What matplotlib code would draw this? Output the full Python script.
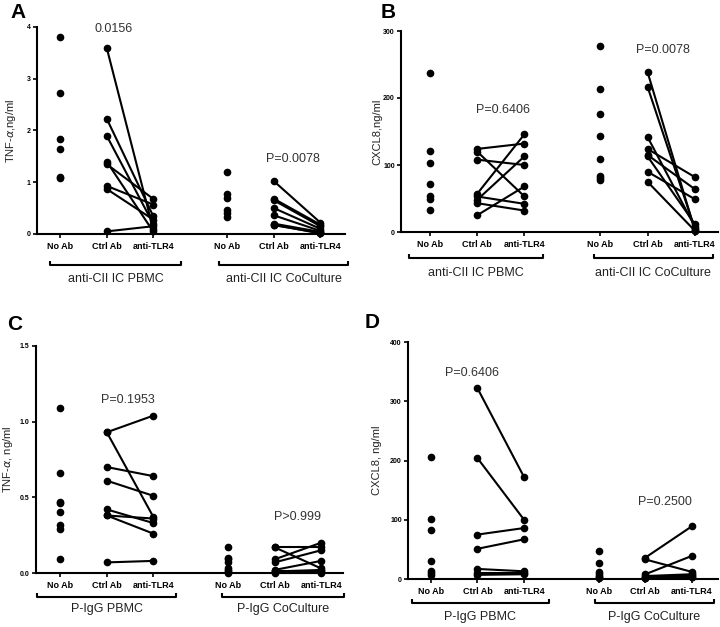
import matplotlib.pyplot as plt
from matplotlib import transforms

plt.rcParams['font.family'] = ['Liberation Sans', 'DejaVu Sans']

# --- data ---
categories = ['No Ab', 'Ctrl Ab', 'anti-TLR4', 'No Ab', 'Ctrl Ab', 'anti-TLR4']
positions = [0, 1, 2, 3.6, 4.6, 5.6]

# A: TNF-alpha, anti-CII IC
a_pbmc_noab = [3.8, 2.73, 1.83, 1.65, 1.1, 1.08]
a_pbmc_ctrl = [3.6, 2.23, 1.9, 1.4, 1.35, 0.93, 0.87, 0.05]
a_pbmc_tlr4 = [0.1, 0.35, 0.2, 0.05, 0.68, 0.57, 0.28, 0.15]
a_cocu_noab = [1.2, 0.77, 0.7, 0.47, 0.4, 0.33]
a_cocu_ctrl = [1.02, 0.68, 0.65, 0.5, 0.36, 0.2, 0.17, 0.18]
a_cocu_tlr4 = [0.22, 0.18, 0.15, 0.1, 0.06, 0.04, 0.02, 0.01]

# B: CXCL8, anti-CII IC
b_pbmc_noab = [237, 121, 103, 71, 53, 50, 33]
b_pbmc_ctrl = [124, 120, 108, 57, 53, 48, 43, 25]
b_pbmc_tlr4 = [132, 53, 100, 146, 42, 113, 32, 68]
b_cocu_noab = [278, 213, 176, 144, 109, 83, 80, 77]
b_cocu_ctrl = [239, 217, 142, 124, 115, 113, 90, 75]
b_cocu_tlr4 = [3, 5, 8, 82, 64, 12, 49, 2]

# C: TNF-alpha, P-IgG
c_pbmc_noab = [1.09, 0.66, 0.47, 0.46, 0.40, 0.32, 0.29, 0.09]
c_pbmc_ctrl = [0.93, 0.93, 0.70, 0.61, 0.42, 0.38, 0.38, 0.07]
c_pbmc_tlr4 = [1.04, 0.37, 0.64, 0.51, 0.33, 0.36, 0.26, 0.08]
c_cocu_noab = [0.17, 0.10, 0.09, 0.07, 0.03, 0.02, 0.01, 0.0]
c_cocu_ctrl = [0.17, 0.17, 0.09, 0.07, 0.02, 0.01, 0.01, 0.0]
c_cocu_tlr4 = [0.17, 0.03, 0.20, 0.15, 0.08, 0.01, 0.02, 0.0]

# D: CXCL8, P-IgG
d_pbmc_noab = [206, 101, 83, 31, 13, 10, 7]
d_pbmc_ctrl = [322, 204, 75, 51, 17, 10, 7]
d_pbmc_tlr4 = [172, 100, 86, 67, 13, 10, 8]
d_cocu_noab = [48, 27, 12, 8, 5, 3, 1]
d_cocu_ctrl = [36, 33, 8, 5, 3, 2, 1]
d_cocu_tlr4 = [89, 12, 39, 8, 6, 4, 3]

panels = [
    dict(letter='A', rect=[37, 27, 345, 234], ylim=(0, 4), yticks=[0, 1, 2, 3, 4],
         yfmt='{:g}', xlim=(-0.5, 6.13), ylabel=r'TNF-$\alpha$,ng/ml',
         data=[a_pbmc_noab, a_pbmc_ctrl, a_pbmc_tlr4, a_cocu_noab, a_cocu_ctrl, a_cocu_tlr4],
         groups=['anti-CII IC PBMC', 'anti-CII IC CoCulture'],
         brackets=[(-0.22, 2.6), (3.42, 6.2)], br_off=31, lab_off=45,
         ptexts=[(1.14, 3.96, '0.0156'), (5.0, 1.45, 'P=0.0078')],
         lpos=(18, 12), ylx=4),
    dict(letter='B', rect=[401, 31, 718, 232], ylim=(0, 300), yticks=[0, 100, 200, 300],
         yfmt='{:g}', xlim=(-0.61, 6.09), ylabel='CXCL8,ng/ml',
         data=[b_pbmc_noab, b_pbmc_ctrl, b_pbmc_tlr4, b_cocu_noab, b_cocu_ctrl, b_cocu_tlr4],
         groups=['anti-CII IC PBMC', 'anti-CII IC CoCulture'],
         brackets=[(-0.44, 2.39), (3.47, 5.98)], br_off=26, lab_off=41,
         ptexts=[(1.54, 182, 'P=0.6406'), (4.93, 272, 'P=0.0078')],
         lpos=(388, 12), ylx=372),
    dict(letter='C', rect=[36, 346, 343, 573], ylim=(0, 1.5), yticks=[0, 0.5, 1.0, 1.5],
         yfmt='{:.1f}', xlim=(-0.52, 6.07), ylabel=r'TNF-$\alpha$, ng/ml',
         data=[c_pbmc_noab, c_pbmc_ctrl, c_pbmc_tlr4, c_cocu_noab, c_cocu_ctrl, c_cocu_tlr4],
         groups=['P-IgG PBMC', 'P-IgG CoCulture'],
         brackets=[(-0.49, 2.49), (3.48, 6.09)], br_off=24, lab_off=36,
         ptexts=[(1.46, 1.14, 'P=0.1953'), (5.09, 0.37, 'P>0.999')],
         lpos=(15, 325), ylx=1),
    dict(letter='D', rect=[408, 342, 718, 579], ylim=(0, 400), yticks=[0, 100, 200, 300, 400],
         yfmt='{:g}', xlim=(-0.49, 6.16), ylabel='CXCL8, ng/ml',
         data=[d_pbmc_noab, d_pbmc_ctrl, d_pbmc_tlr4, d_cocu_noab, d_cocu_ctrl, d_cocu_tlr4],
         groups=['P-IgG PBMC', 'P-IgG CoCulture'],
         brackets=[(-0.41, 2.53), (3.52, 6.07)], br_off=24, lab_off=38,
         ptexts=[(0.88, 348, 'P=0.6406'), (5.02, 130, 'P=0.2500')],
         lpos=(372, 323), ylx=372),
]

W, H = 720, 627
fig = plt.figure(figsize=(W / 100, H / 100), dpi=100)

for p in panels:
    x0, y0, x1, y1 = p['rect']
    ax = fig.add_axes([x0 / W, 1 - y1 / H, (x1 - x0) / W, (y1 - y0) / H])
    ax.set_xlim(*p['xlim'])
    ax.set_ylim(*p['ylim'])
    for s in ['top', 'right']:
        ax.spines[s].set_visible(False)
    ax.spines['left'].set_linewidth(1.5)
    ax.spines['bottom'].set_linewidth(1.5)

    no1, c1, t1, no2, c2, t2 = p['data']
    # unpaired No Ab dots
    for pos, vals in [(positions[0], no1), (positions[3], no2)]:
        ax.plot([pos] * len(vals), vals, 'o', color='black', ms=4.5, clip_on=False, zorder=3)
    # paired lines Ctrl Ab -> anti-TLR4
    for (pa, pb), ca, cb in [((positions[1], positions[2]), c1, t1),
                             ((positions[4], positions[5]), c2, t2)]:
        for va, vb in zip(ca, cb):
            ax.plot([pa, pb], [va, vb], '-o', color='black', lw=1.5, ms=4.5,
                    clip_on=False, zorder=3)

    ax.set_xticks(positions)
    ax.set_xticklabels(categories, fontsize=6.5, fontweight='bold')
    ax.tick_params(axis='x', length=3, width=1.2, pad=3)
    ax.set_yticks(p['yticks'])
    ax.set_yticklabels([p['yfmt'].format(v) for v in p['yticks']],
                       fontsize=5, fontweight='bold')
    ax.tick_params(axis='y', length=3, width=1.2, pad=1.5)

    # group brackets under the axis
    br_tr = ax.get_xaxis_transform() + transforms.ScaledTranslation(0, -p['br_off'] / 100, fig.dpi_scale_trans)
    lab_tr = ax.get_xaxis_transform() + transforms.ScaledTranslation(0, -p['lab_off'] / 100, fig.dpi_scale_trans)
    tick_h = 4 / ((y1 - y0))
    for (bl, br), name in zip(p['brackets'], p['groups']):
        ax.plot([bl, bl, br, br], [tick_h, 0, 0, tick_h], color='black', lw=1.5,
                transform=br_tr, clip_on=False, solid_capstyle='butt')
        ax.text((bl + br) / 2, 0, name, transform=lab_tr, ha='center', va='center',
                fontsize=9, color='#222222')

    for tx, ty, s in p['ptexts']:
        ax.text(tx, ty, s, ha='center', va='center', fontsize=9, color='#333333')

    fig.text(p['ylx'] / W, 1 - ((y0 + y1) / 2) / H, p['ylabel'], rotation=90,
             ha='left', va='center', fontsize=8, color='#222222')
    fig.text(p['lpos'][0] / W, 1 - p['lpos'][1] / H, p['letter'], ha='center',
             va='center', fontsize=15, fontweight='bold')

fig.savefig('out.png', dpi=100)
